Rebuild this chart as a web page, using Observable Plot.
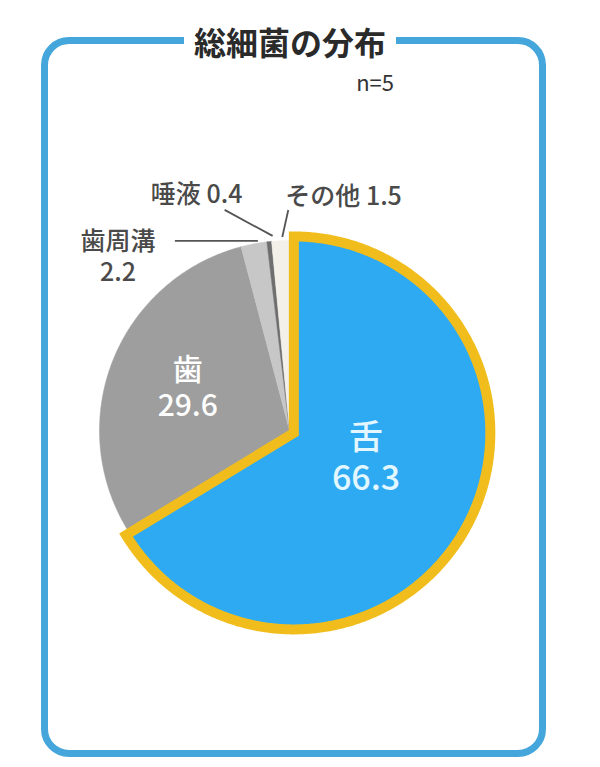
<!DOCTYPE html>
<html><head><meta charset="utf-8">
<script src="https://cdn.jsdelivr.net/npm/d3@7"></script>
<script src="https://cdn.jsdelivr.net/npm/@observablehq/plot@0.6"></script>
<style>
body{margin:0;background:#fff;}
#wrap{position:relative;width:600px;height:767px;overflow:hidden;font-family:"Noto Sans CJK JP","Noto Sans",sans-serif;}
#frame{position:absolute;left:41px;top:37px;width:505px;height:720px;box-sizing:border-box;border:7px solid #45a6dc;border-radius:28px;}
#chart{position:absolute;left:0;top:0;}
#title{position:absolute;left:290px;top:24px;transform:translateX(-50%);background:#fff;padding:0 10px;font-size:32px;line-height:34px;font-weight:700;color:#2a2a2a;white-space:nowrap;z-index:2;}
#n{position:absolute;right:206px;top:69px;font-size:22px;line-height:25px;color:#333;z-index:2;}
</style>
</head><body>
<div id="wrap">
  <div id="frame"></div>
  <div id="chart"></div>
  <div id="title">総細菌の分布</div>
  <div id="n">n=5</div>
</div>
<script>
// ---- data ----
const categories = ["舌", "歯", "歯周溝", "唾液", "その他"];
const values = [66.3, 29.6, 2.2, 0.4, 1.5];
const valueLabels = ["66.3", "29.6", "2.2", "0.4", "1.5"];
const colors = ["#2eaaf2", "#9e9e9e", "#c7c7c7", "#6e6e6e", "#f2f0e8"];

// ---- layout ----
const W = 600, H = 767;
const cx = 289, cy = 430, K = 190; // pixel centre and pixels per unit radius
const rad = d => d * Math.PI / 180;

const arcs = d3.pie().sort(null).value(d => d)(values);
const slices = arcs.map((a, i) => ({
  name: categories[i], value: values[i], label: valueLabels[i], color: colors[i],
  a0: a.startAngle, a1: a.endAngle, mid: (a.startAngle + a.endAngle) / 2
}));

function polygon(s, r, explode) {
  const ox = explode * Math.sin(s.mid), oy = explode * Math.cos(s.mid);
  const pts = [{x: ox, y: oy}];
  const n = Math.max(2, Math.ceil((s.a1 - s.a0) / rad(0.5)));
  for (let k = 0; k <= n; k++) {
    const a = s.a0 + (s.a1 - s.a0) * k / n;
    pts.push({x: ox + r * Math.sin(a), y: oy + r * Math.cos(a)});
  }
  return pts.map(p => ({...p, name: s.name, color: s.color}));
}

const mainSlice = slices[0];
const others = slices.slice(1);
const otherPts = others.flatMap(s => polygon(s, 1, 0));
const mainPts = polygon(mainSlice, 1.034, 5 / K);

const at = (s, r) => ({x: r * Math.sin(s.mid), y: r * Math.cos(s.mid)});

// inner labels
const inner = [
  {...at(mainSlice, 0.42), text: mainSlice.name + "\n" + mainSlice.label, dx: 7, dy: -13, size: 34, fill: "#e2f7ff"},
  {...at(slices[1], 0.6), text: slices[1].name + "\n" + slices[1].label, dx: 4, dy: -1, size: 30, fill: "#ffffff"}
];

// outside leader lines (offsets in px)
const leaderSpec = [
  {i: 2, r: 1.0, ex: -79, ey: -3, sx: 4, sy: -3, tx: -57, ty: 15, anchor: "middle"},
  {i: 3, r: 1.03, ex: -44, ey: -26, sx: 4, sy: 0, tx: -28, ty: -17, anchor: "middle"},
  {i: 4, r: 1.03, ex: 8, ey: -25, sx: 2, sy: 2, tx: -3, ty: -15, anchor: "start"}
];
const leaders = leaderSpec.map(L => {
  const s = slices[L.i];
  const p = at(s, L.r);
  const x1 = p.x + L.sx / K, y1 = p.y - L.sy / K;
  const x2 = p.x + L.ex / K, y2 = p.y - L.ey / K;
  const text = L.i === 2 ? s.name + "\n" + s.label : s.name + " " + s.label;
  return {x1, y1, x2, y2, tx: x2 + L.tx / K, ty: y2 - L.ty / K, text, anchor: L.anchor};
});

const outerText = anchor => Plot.text(leaders.filter(d => d.anchor === anchor), {
  x: "tx", y: "ty", text: "text", textAnchor: anchor, fill: "#4a4a4a",
  fontSize: 25, fontWeight: 500, lineHeight: 1.25
});

const chart = Plot.plot({
  width: W, height: H,
  marginTop: 0, marginBottom: 0, marginLeft: 0, marginRight: 0,
  x: {domain: [-cx / K, (W - cx) / K], axis: null},
  y: {domain: [-(H - cy) / K, cy / K], axis: null},
  style: {background: "transparent", fontFamily: "'Noto Sans CJK JP', 'Noto Sans', sans-serif"},
  marks: [
    Plot.line(otherPts, {x: "x", y: "y", z: "name", fill: "color", stroke: "color", strokeWidth: 0.5, curve: "linear-closed"}),
    Plot.line(mainPts, {x: "x", y: "y", z: "name", fill: "color", stroke: "#f1bd1c", strokeWidth: 10, strokeLinejoin: "miter", strokeMiterlimit: 10, curve: "linear-closed"}),
    Plot.link(leaders, {x1: "x1", y1: "y1", x2: "x2", y2: "y2", stroke: "#555", strokeWidth: 1.8}),
    outerText("middle"),
    outerText("start"),
    ...inner.map(t => Plot.text([t], {x: "x", y: "y", text: "text", dx: t.dx, dy: t.dy, fill: t.fill, fontSize: t.size, lineHeight: 1.2, fontWeight: 500}))
  ]
});
document.getElementById("chart").appendChild(chart);
</script>
</body></html>
